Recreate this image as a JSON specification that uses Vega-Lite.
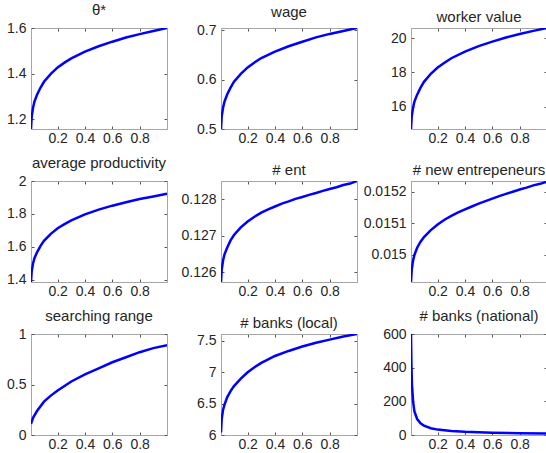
{
  "$schema": "https://vega.github.io/schema/vega-lite/v6.json",
  "padding": {"left": 6, "top": 2, "right": 0, "bottom": 0},
  "background": "white",
  "datasets": {
    "theta": [{"x":0.005,"y":1.157},{"x":0.01,"y":1.21},{"x":0.02,"y":1.25},{"x":0.03,"y":1.277},{"x":0.05,"y":1.308},{"x":0.075,"y":1.339},{"x":0.1,"y":1.364},{"x":0.15,"y":1.399},{"x":0.2,"y":1.427},{"x":0.25,"y":1.448},{"x":0.3,"y":1.467},{"x":0.4,"y":1.496},{"x":0.5,"y":1.52},{"x":0.6,"y":1.54},{"x":0.7,"y":1.558},{"x":0.8,"y":1.573},{"x":0.9,"y":1.587},{"x":1.0,"y":1.6}],
    "wage": [{"x":0.005,"y":0.5},{"x":0.01,"y":0.525},{"x":0.02,"y":0.543},{"x":0.03,"y":0.555},{"x":0.05,"y":0.57},{"x":0.075,"y":0.584},{"x":0.1,"y":0.596},{"x":0.15,"y":0.612},{"x":0.2,"y":0.625},{"x":0.25,"y":0.635},{"x":0.3,"y":0.644},{"x":0.4,"y":0.657},{"x":0.5,"y":0.668},{"x":0.6,"y":0.677},{"x":0.7,"y":0.686},{"x":0.8,"y":0.693},{"x":0.9,"y":0.699},{"x":1.0,"y":0.705}],
    "worker": [{"x":0.005,"y":14.69},{"x":0.01,"y":15.4},{"x":0.02,"y":15.93},{"x":0.03,"y":16.29},{"x":0.05,"y":16.7},{"x":0.075,"y":17.11},{"x":0.1,"y":17.45},{"x":0.15,"y":17.92},{"x":0.2,"y":18.29},{"x":0.25,"y":18.57},{"x":0.3,"y":18.83},{"x":0.4,"y":19.22},{"x":0.5,"y":19.54},{"x":0.6,"y":19.8},{"x":0.7,"y":20.04},{"x":0.8,"y":20.25},{"x":0.9,"y":20.43},{"x":1.0,"y":20.6}],
    "prod": [{"x":0.005,"y":1.386},{"x":0.01,"y":1.45},{"x":0.02,"y":1.499},{"x":0.03,"y":1.531},{"x":0.05,"y":1.568},{"x":0.075,"y":1.606},{"x":0.1,"y":1.636},{"x":0.15,"y":1.679},{"x":0.2,"y":1.713},{"x":0.25,"y":1.738},{"x":0.3,"y":1.761},{"x":0.4,"y":1.797},{"x":0.5,"y":1.826},{"x":0.6,"y":1.85},{"x":0.7,"y":1.871},{"x":0.8,"y":1.89},{"x":0.9,"y":1.906},{"x":1.0,"y":1.922}],
    "ent": [{"x":0.005,"y":0.12573},{"x":0.01,"y":0.12606},{"x":0.02,"y":0.12632},{"x":0.03,"y":0.12648},{"x":0.05,"y":0.12667},{"x":0.075,"y":0.12687},{"x":0.1,"y":0.12702},{"x":0.15,"y":0.12723},{"x":0.2,"y":0.12739},{"x":0.25,"y":0.12752},{"x":0.3,"y":0.12763},{"x":0.35,"y":0.12772},{"x":0.4,"y":0.12780},{"x":0.45,"y":0.12788},{"x":0.5,"y":0.12794},{"x":0.55,"y":0.12801},{"x":0.6,"y":0.12806},{"x":0.65,"y":0.12812},{"x":0.7,"y":0.12817},{"x":0.75,"y":0.12823},{"x":0.8,"y":0.12828},{"x":0.85,"y":0.12833},{"x":0.9,"y":0.12839},{"x":0.95,"y":0.12843},{"x":1.0,"y":0.1285}],
    "newent": [{"x":0.005,"y":0.014913},{"x":0.01,"y":0.01495},{"x":0.02,"y":0.014981},{"x":0.03,"y":0.014999},{"x":0.05,"y":0.015022},{"x":0.075,"y":0.015041},{"x":0.1,"y":0.015056},{"x":0.15,"y":0.015078},{"x":0.2,"y":0.015096},{"x":0.25,"y":0.015111},{"x":0.3,"y":0.015123},{"x":0.35,"y":0.015134},{"x":0.4,"y":0.015144},{"x":0.45,"y":0.015153},{"x":0.5,"y":0.015162},{"x":0.55,"y":0.01517},{"x":0.6,"y":0.015178},{"x":0.65,"y":0.015186},{"x":0.7,"y":0.015193},{"x":0.75,"y":0.015200},{"x":0.8,"y":0.015207},{"x":0.85,"y":0.015213},{"x":0.9,"y":0.01522},{"x":0.95,"y":0.015225},{"x":1.0,"y":0.015232}],
    "search": [{"x":0.005,"y":0.11},{"x":0.02,"y":0.17},{"x":0.05,"y":0.24},{"x":0.1,"y":0.33},{"x":0.15,"y":0.39},{"x":0.2,"y":0.44},{"x":0.3,"y":0.53},{"x":0.4,"y":0.6},{"x":0.5,"y":0.66},{"x":0.6,"y":0.72},{"x":0.7,"y":0.77},{"x":0.8,"y":0.82},{"x":0.9,"y":0.86},{"x":1.0,"y":0.89}],
    "local": [{"x":0.005,"y":6.04},{"x":0.01,"y":6.25},{"x":0.02,"y":6.4},{"x":0.03,"y":6.48},{"x":0.05,"y":6.6},{"x":0.075,"y":6.7},{"x":0.1,"y":6.78},{"x":0.15,"y":6.9},{"x":0.2,"y":7.0},{"x":0.25,"y":7.08},{"x":0.3,"y":7.15},{"x":0.4,"y":7.26},{"x":0.5,"y":7.34},{"x":0.6,"y":7.41},{"x":0.7,"y":7.47},{"x":0.8,"y":7.52},{"x":0.9,"y":7.57},{"x":1.0,"y":7.61}],
    "national": [{"x":0.005,"y":600},{"x":0.008,"y":420},{"x":0.012,"y":300},{"x":0.02,"y":200},{"x":0.03,"y":140},{"x":0.05,"y":95},{"x":0.075,"y":70},{"x":0.1,"y":55},{"x":0.15,"y":40},{"x":0.2,"y":32},{"x":0.3,"y":24},{"x":0.4,"y":19},{"x":0.5,"y":16},{"x":0.6,"y":14},{"x":0.8,"y":11},{"x":1.0,"y":9}]
  },
  "columns": 3,
  "spacing": {"row": 52, "column": 54},
  "bounds": "flush",
  "concat": [
    {"title": "θ*", "width": 136, "height": 101, "data": {"name": "theta"},
     "layer": [
       {"mark": {"type": "line", "color": "#0000ff", "strokeWidth": 2.5, "clip": true},
        "encoding": {
          "x": {"field": "x", "type": "quantitative", "scale": {"domain": [0.005, 1], "nice": false, "zero": false}, "axis": {"values": [0.2, 0.4, 0.6, 0.8], "format": ".4~r"}},
          "y": {"field": "y", "type": "quantitative", "scale": {"domain": [1.157, 1.6], "nice": false, "zero": false}, "axis": {"values": [1.2, 1.4, 1.6], "format": ".4~r"}}}},
       {"mark": {"type": "line", "strokeOpacity": 0},
        "encoding": {
          "x": {"field": "x", "type": "quantitative", "axis": {"orient": "top", "values": [0.2, 0.4, 0.6, 0.8], "labels": false}},
          "y": {"field": "y", "type": "quantitative", "axis": {"orient": "right", "values": [1.2, 1.4, 1.6], "labels": false}}}}
     ],
     "resolve": {"axis": {"x": "independent", "y": "independent"}}},
    {"title": "wage", "width": 136, "height": 101, "data": {"name": "wage"},
     "layer": [
       {"mark": {"type": "line", "color": "#0000ff", "strokeWidth": 2.5, "clip": true},
        "encoding": {
          "x": {"field": "x", "type": "quantitative", "scale": {"domain": [0.005, 1], "nice": false, "zero": false}, "axis": {"values": [0.2, 0.4, 0.6, 0.8], "format": ".4~r"}},
          "y": {"field": "y", "type": "quantitative", "scale": {"domain": [0.5, 0.705], "nice": false, "zero": false}, "axis": {"values": [0.5, 0.6, 0.7], "format": ".4~r"}}}},
       {"mark": {"type": "line", "strokeOpacity": 0},
        "encoding": {
          "x": {"field": "x", "type": "quantitative", "axis": {"orient": "top", "values": [0.2, 0.4, 0.6, 0.8], "labels": false}},
          "y": {"field": "y", "type": "quantitative", "axis": {"orient": "right", "values": [0.5, 0.6, 0.7], "labels": false}}}}
     ],
     "resolve": {"axis": {"x": "independent", "y": "independent"}}},
    {"title": "worker value", "width": 136, "height": 101, "data": {"name": "worker"},
     "layer": [
       {"mark": {"type": "line", "color": "#0000ff", "strokeWidth": 2.5, "clip": true},
        "encoding": {
          "x": {"field": "x", "type": "quantitative", "scale": {"domain": [0.005, 1], "nice": false, "zero": false}, "axis": {"values": [0.2, 0.4, 0.6, 0.8], "format": ".4~r"}},
          "y": {"field": "y", "type": "quantitative", "scale": {"domain": [14.69, 20.6], "nice": false, "zero": false}, "axis": {"values": [16, 18, 20], "format": ".4~r"}}}},
       {"mark": {"type": "line", "strokeOpacity": 0},
        "encoding": {
          "x": {"field": "x", "type": "quantitative", "axis": {"orient": "top", "values": [0.2, 0.4, 0.6, 0.8], "labels": false}},
          "y": {"field": "y", "type": "quantitative", "axis": {"orient": "right", "values": [16, 18, 20], "labels": false}}}}
     ],
     "resolve": {"axis": {"x": "independent", "y": "independent"}}},
    {"title": "average productivity", "width": 136, "height": 101, "data": {"name": "prod"},
     "layer": [
       {"mark": {"type": "line", "color": "#0000ff", "strokeWidth": 2.5, "clip": true},
        "encoding": {
          "x": {"field": "x", "type": "quantitative", "scale": {"domain": [0.005, 1], "nice": false, "zero": false}, "axis": {"values": [0.2, 0.4, 0.6, 0.8], "format": ".4~r"}},
          "y": {"field": "y", "type": "quantitative", "scale": {"domain": [1.386, 2.0], "nice": false, "zero": false}, "axis": {"values": [1.4, 1.6, 1.8, 2.0], "format": ".4~r"}}}},
       {"mark": {"type": "line", "strokeOpacity": 0},
        "encoding": {
          "x": {"field": "x", "type": "quantitative", "axis": {"orient": "top", "values": [0.2, 0.4, 0.6, 0.8], "labels": false}},
          "y": {"field": "y", "type": "quantitative", "axis": {"orient": "right", "values": [1.4, 1.6, 1.8, 2.0], "labels": false}}}}
     ],
     "resolve": {"axis": {"x": "independent", "y": "independent"}}},
    {"title": "# ent", "width": 136, "height": 101, "data": {"name": "ent"},
     "layer": [
       {"mark": {"type": "line", "color": "#0000ff", "strokeWidth": 2.5, "clip": true},
        "encoding": {
          "x": {"field": "x", "type": "quantitative", "scale": {"domain": [0.005, 1], "nice": false, "zero": false}, "axis": {"values": [0.2, 0.4, 0.6, 0.8], "format": ".4~r"}},
          "y": {"field": "y", "type": "quantitative", "scale": {"domain": [0.12573, 0.1285], "nice": false, "zero": false}, "axis": {"values": [0.126, 0.127, 0.128], "format": ".4~r"}}}},
       {"mark": {"type": "line", "strokeOpacity": 0},
        "encoding": {
          "x": {"field": "x", "type": "quantitative", "axis": {"orient": "top", "values": [0.2, 0.4, 0.6, 0.8], "labels": false}},
          "y": {"field": "y", "type": "quantitative", "axis": {"orient": "right", "values": [0.126, 0.127, 0.128], "labels": false}}}}
     ],
     "resolve": {"axis": {"x": "independent", "y": "independent"}}},
    {"title": "# new entrepeneurs", "width": 136, "height": 101, "data": {"name": "newent"},
     "layer": [
       {"mark": {"type": "line", "color": "#0000ff", "strokeWidth": 2.5, "clip": true},
        "encoding": {
          "x": {"field": "x", "type": "quantitative", "scale": {"domain": [0.005, 1], "nice": false, "zero": false}, "axis": {"values": [0.2, 0.4, 0.6, 0.8], "format": ".4~r"}},
          "y": {"field": "y", "type": "quantitative", "scale": {"domain": [0.014913, 0.015234], "nice": false, "zero": false}, "axis": {"values": [0.015, 0.0151, 0.0152], "format": ".4~r"}}}},
       {"mark": {"type": "line", "strokeOpacity": 0},
        "encoding": {
          "x": {"field": "x", "type": "quantitative", "axis": {"orient": "top", "values": [0.2, 0.4, 0.6, 0.8], "labels": false}},
          "y": {"field": "y", "type": "quantitative", "axis": {"orient": "right", "values": [0.015, 0.0151, 0.0152], "labels": false}}}}
     ],
     "resolve": {"axis": {"x": "independent", "y": "independent"}}},
    {"title": "searching range", "width": 136, "height": 101, "data": {"name": "search"},
     "layer": [
       {"mark": {"type": "line", "color": "#0000ff", "strokeWidth": 2.5, "clip": true},
        "encoding": {
          "x": {"field": "x", "type": "quantitative", "scale": {"domain": [0.005, 1], "nice": false, "zero": false}, "axis": {"values": [0.2, 0.4, 0.6, 0.8], "format": ".4~r"}},
          "y": {"field": "y", "type": "quantitative", "scale": {"domain": [0, 1], "nice": false, "zero": false}, "axis": {"values": [0, 0.5, 1], "format": ".4~r"}}}},
       {"mark": {"type": "line", "strokeOpacity": 0},
        "encoding": {
          "x": {"field": "x", "type": "quantitative", "axis": {"orient": "top", "values": [0.2, 0.4, 0.6, 0.8], "labels": false}},
          "y": {"field": "y", "type": "quantitative", "axis": {"orient": "right", "values": [0, 0.5, 1], "labels": false}}}}
     ],
     "resolve": {"axis": {"x": "independent", "y": "independent"}}},
    {"title": "# banks (local)", "width": 136, "height": 101, "data": {"name": "local"},
     "layer": [
       {"mark": {"type": "line", "color": "#0000ff", "strokeWidth": 2.5, "clip": true},
        "encoding": {
          "x": {"field": "x", "type": "quantitative", "scale": {"domain": [0.005, 1], "nice": false, "zero": false}, "axis": {"values": [0.2, 0.4, 0.6, 0.8], "format": ".4~r"}},
          "y": {"field": "y", "type": "quantitative", "scale": {"domain": [6, 7.61], "nice": false, "zero": false}, "axis": {"values": [6, 6.5, 7, 7.5], "format": ".4~r"}}}},
       {"mark": {"type": "line", "strokeOpacity": 0},
        "encoding": {
          "x": {"field": "x", "type": "quantitative", "axis": {"orient": "top", "values": [0.2, 0.4, 0.6, 0.8], "labels": false}},
          "y": {"field": "y", "type": "quantitative", "axis": {"orient": "right", "values": [6, 6.5, 7, 7.5], "labels": false}}}}
     ],
     "resolve": {"axis": {"x": "independent", "y": "independent"}}},
    {"title": "# banks (national)", "width": 136, "height": 101, "data": {"name": "national"},
     "layer": [
       {"mark": {"type": "line", "color": "#0000ff", "strokeWidth": 2.5, "clip": true},
        "encoding": {
          "x": {"field": "x", "type": "quantitative", "scale": {"domain": [0.005, 1], "nice": false, "zero": false}, "axis": {"values": [0.2, 0.4, 0.6, 0.8], "format": ".4~r"}},
          "y": {"field": "y", "type": "quantitative", "scale": {"domain": [0, 600], "nice": false, "zero": false}, "axis": {"values": [0, 200, 400, 600], "format": ".4~r"}}}},
       {"mark": {"type": "line", "strokeOpacity": 0},
        "encoding": {
          "x": {"field": "x", "type": "quantitative", "axis": {"orient": "top", "values": [0.2, 0.4, 0.6, 0.8], "labels": false}},
          "y": {"field": "y", "type": "quantitative", "axis": {"orient": "right", "values": [0, 200, 400, 600], "labels": false}}}}
     ],
     "resolve": {"axis": {"x": "independent", "y": "independent"}}}
  ],
  "config": {
    "view": {"stroke": "#a6a6a6", "strokeWidth": 1},
    "axis": {"grid": false, "title": null, "domainColor": "#a6a6a6", "tickColor": "#555555", "tickSize": -3, "labelFont": "Liberation Sans", "labelFontSize": 14, "labelColor": "#262626", "labelPadding": 8},
    "axisX": {"labelPadding": 5},
    "title": {"font": "Liberation Sans", "fontSize": 15, "fontWeight": "normal", "color": "#262626", "offset": 3}
  }
}
